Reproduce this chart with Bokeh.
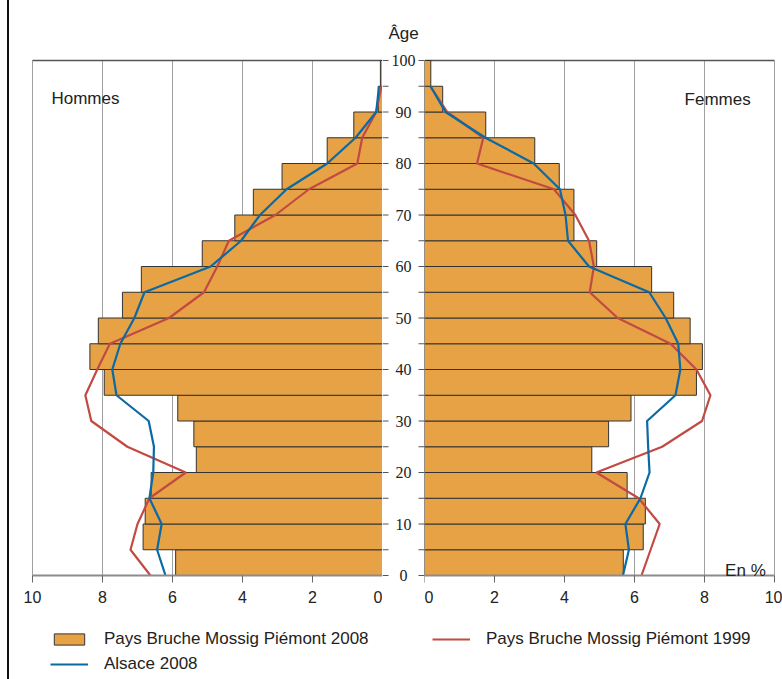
from bokeh.plotting import figure
from bokeh.models import (Range1d, FixedTicker, Label, Legend, LegendItem, Div, Grid)
from bokeh.layouts import row
from bokeh.embed import file_html
from bokeh.resources import INLINE

# ---------------- data ----------------
age_start = list(range(0, 100, 5))          # 0-4, 5-9, ..., 95+
hommes_2008 = [5.91, 6.84, 6.78, 6.61, 5.32, 5.39, 5.85, 7.95, 8.36, 8.12,
               7.43, 6.89, 5.15, 4.22, 3.69, 2.87, 1.58, 0.82, 0.12, 0.06]
femmes_2008 = [5.68, 6.25, 6.31, 5.79, 4.78, 5.26, 5.90, 7.77, 7.94, 7.59,
               7.12, 6.49, 4.92, 4.27, 4.27, 3.85, 3.15, 1.75, 0.52, 0.18]
hommes_1999 = [6.63, 7.20, 7.00, 6.66, 5.62, 7.29, 8.32, 8.49, 8.15, 7.79,
               6.10, 5.10, 4.72, 4.39, 3.06, 2.10, 0.72, 0.58, 0.18, 0.03]
femmes_1999 = [6.20, 6.46, 6.72, 6.12, 4.91, 6.79, 7.93, 8.17, 7.77, 7.03,
               5.52, 4.72, 4.84, 4.70, 4.31, 3.70, 1.50, 1.68, 0.65, 0.17]
alsace_hommes = [6.20, 6.44, 6.31, 6.66, 6.55, 6.53, 6.68, 7.60, 7.72, 7.49,
                 7.09, 6.80, 4.91, 4.04, 3.50, 2.74, 1.58, 0.77, 0.18, 0.10]
alsace_femmes = [5.67, 5.84, 5.74, 6.17, 6.43, 6.39, 6.36, 7.17, 7.31, 7.25,
                 6.89, 6.42, 4.70, 4.10, 4.03, 3.87, 3.12, 1.74, 0.60, 0.17]

x_ticks = [0, 2, 4, 6, 8, 10]
grid_ticks = [2, 4, 6, 8, 10]
age_label_ticks = list(range(0, 101, 10))
age_all_ticks = list(range(0, 101, 5))
AGE_MIN, AGE_MAX = 0, 100
PCT_MIN, PCT_MAX = 0, 10

label_bars = "Pays Bruche Mossig Piémont 2008"
label_1999 = "Pays Bruche Mossig Piémont 1999"
label_alsace = "Alsace 2008"

# ---------------- style / layout ----------------
ORANGE = "#E6A245"
BAR_LINE = "#333333"
RED = "#C24A42"
BLUE = "#0B69A3"
TXT = "#222222"
FONT = "Liberation Sans"

PAGE_W = 782
PAGE_H = 679
LINE_X = 7            # left black frame line (2 px)
LEFT_START = LINE_X + 2
X10_LEFT_PX = 32      # page x of "10" on the men's side
X0_LEFT_PX = 382
X0_RIGHT_PX = 424
X10_RIGHT_PX = 774
PX_PER_PCT = (X0_LEFT_PX - X10_LEFT_PX) / 10.0
GAP = X0_RIGHT_PX - X0_LEFT_PX
TOP_B = 5
Y100_PX = 60          # page y of age 100
Y0_PX = 575           # page y of age 0
PX_PER_YEAR = (Y0_PX - Y100_PX) / 100.0
Y_TOP = AGE_MAX + (Y100_PX - TOP_B) / PX_PER_YEAR
Y_BOT = AGE_MIN - (PAGE_H - Y0_PX) / PX_PER_YEAR

LEFT_W = X0_LEFT_PX - LEFT_START
RIGHT_W = PAGE_W - X0_RIGHT_PX
XL_MAX = PCT_MAX + (X10_LEFT_PX - LEFT_START) / PX_PER_PCT
XR_MAX = PCT_MAX + (PAGE_W - X10_RIGHT_PX) / PX_PER_PCT

mid = [a + 2.5 for a in age_start]


def base_fig(width, xr):
    p = figure(width=width, height=PAGE_H, x_range=xr, y_range=Range1d(Y_BOT, Y_TOP),
               output_backend="svg", toolbar_location=None,
               min_border_top=TOP_B, min_border_bottom=0,
               min_border_left=0, min_border_right=0,
               y_axis_location=None)
    p.outline_line_color = None
    p.background_fill_color = "white"
    p.border_fill_color = "white"
    return p


def panel(side):
    left = side == "left"
    xr = Range1d(XL_MAX, 0) if left else Range1d(0, XR_MAX)
    p = base_fig(LEFT_W if left else RIGHT_W, xr)
    # vertical grid lines, only across the age span
    p.xgrid.ticker = FixedTicker(ticks=grid_ticks)
    p.xgrid.grid_line_color = "#a0a0a0"
    p.xgrid.grid_line_width = 1
    p.xgrid.cross_bounds = (AGE_MIN, AGE_MAX)
    # top border line at 100 ans
    p.ygrid.ticker = FixedTicker(ticks=[AGE_MAX])
    p.ygrid.grid_line_color = "#555555"
    p.ygrid.grid_line_width = 1.5
    p.ygrid.cross_bounds = (PCT_MIN, PCT_MAX)
    ax = p.xaxis[0]
    ax.fixed_location = AGE_MIN
    ax.bounds = (PCT_MIN, PCT_MAX)
    ax.ticker = FixedTicker(ticks=x_ticks)
    ax.axis_line_color = "#8c8c8c"
    ax.axis_line_width = 2
    ax.major_tick_line_color = "#666666"
    ax.major_tick_out = 7
    ax.major_tick_in = 0
    ax.minor_tick_line_color = None
    ax.major_label_text_font = FONT
    ax.major_label_text_font_size = "16px"
    ax.major_label_text_color = TXT
    ax.major_label_standoff = 8
    return p


left_p = panel("left")
right_p = panel("right")

bars_l = left_p.hbar(y=mid, height=5, left=0, right=hommes_2008, fill_color=ORANGE,
                     line_color=BAR_LINE, line_width=1)
red_l = left_p.line(x=hommes_1999, y=age_start, line_color=RED, line_width=2.2)
blue_l = left_p.line(x=alsace_hommes, y=age_start, line_color=BLUE, line_width=2.2)

bars_r = right_p.hbar(y=mid, height=5, left=0, right=femmes_2008, fill_color=ORANGE,
                      line_color=BAR_LINE, line_width=1)
red_r = right_p.line(x=femmes_1999, y=age_start, line_color=RED, line_width=2.2)
blue_r = right_p.line(x=alsace_femmes, y=age_start, line_color=BLUE, line_width=2.2)

left_p.add_layout(Label(x=9.46, y=92.56, text="Hommes", text_align="left",
                        text_baseline="alphabetic", text_font=FONT,
                        text_font_size="17px", text_color=TXT))
right_p.add_layout(Label(x=7.43, y=92.5, text="Femmes", text_align="left",
                         text_baseline="alphabetic", text_font=FONT,
                         text_font_size="17px", text_color=TXT))
right_p.add_layout(Label(x=9.75, y=0.97, text="En %", text_align="right",
                         text_baseline="alphabetic", text_font=FONT,
                         text_font_size="17px", text_color=TXT))


# ---------------- legends (inside the panels, below the axes) ----------------
def make_legend(items, loc, spacing):
    return Legend(items=items, location=loc, orientation="vertical",
                  glyph_width=38, glyph_height=14, label_standoff=16,
                  label_height=20, spacing=spacing, padding=0, margin=0,
                  border_line_color=None, background_fill_alpha=0,
                  label_text_font=FONT, label_text_font_size="17px",
                  label_text_color=TXT)


left_p.add_layout(make_legend([LegendItem(label=label_bars, renderers=[bars_l]),
                               LegendItem(label=label_alsace, renderers=[blue_l])],
                              (50 - LEFT_START, PAGE_H - 674), 5))
right_p.add_layout(make_legend([LegendItem(label=label_1999, renderers=[red_r])],
                               (432 - X0_RIGHT_PX, PAGE_H - 649), 0))

# ---------------- middle age axis ----------------
mid_p = base_fig(GAP, Range1d(0, GAP))
mid_p.xaxis.visible = False
mid_p.grid.visible = False
TICK = 6
n_t = len(age_all_ticks)
mid_p.segment(x0=[0] * n_t, x1=[TICK] * n_t, y0=age_all_ticks, y1=age_all_ticks,
              line_color="#555555", line_width=1)
mid_p.segment(x0=[GAP - TICK] * n_t, x1=[GAP] * n_t, y0=age_all_ticks, y1=age_all_ticks,
              line_color="#555555", line_width=1)
mid_p.text(x=[GAP / 2] * len(age_label_ticks), y=age_label_ticks,
           text=[str(a) for a in age_label_ticks], text_align="center",
           text_baseline="middle", text_font=FONT, text_font_size="16px",
           text_color=TXT)
mid_p.add_layout(Label(x=GAP / 2, y=105.2, text="Âge", text_align="center",
                       text_baseline="alphabetic", text_font=FONT,
                       text_font_size="17px", text_color=TXT))

frame_line = Div(text="", width=2, height=PAGE_H, margin=(0, 0, 0, LINE_X),
                 styles={"background-color": "#111111"})

layout = row(frame_line, left_p, mid_p, right_p)

open("out.html", "w").write(file_html(layout, INLINE))
